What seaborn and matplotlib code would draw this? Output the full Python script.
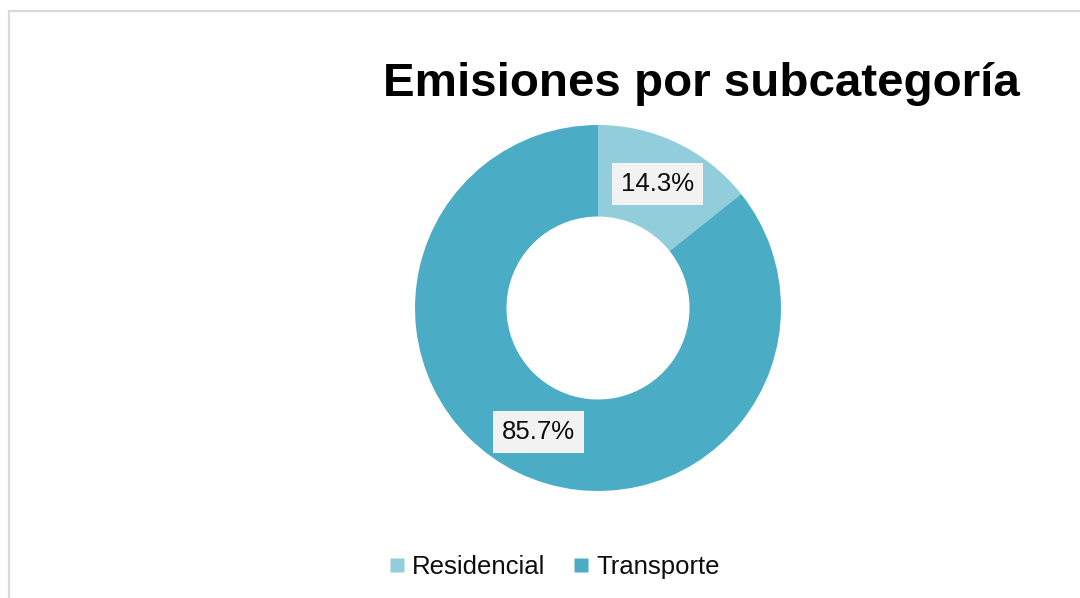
import matplotlib.pyplot as plt
import seaborn as sns
from matplotlib.lines import Line2D
from matplotlib.patches import Rectangle

# chart data
categories = ["Residencial", "Transporte"]
shares = [14.3, 85.7]
colors = ["#92CDDC", "#4BACC6"]
title = "Emisiones por subcategoría"

W, H = 1080, 598


def main() -> None:
    sns.set_theme(style="white")
    plt.rcParams["font.family"] = ["Liberation Sans", "DejaVu Sans"]

    fig = plt.figure(figsize=(W / 100, H / 100), dpi=100)
    fig.patch.set_facecolor("white")

    # outer chart frame (left and top visible, rest runs off the image)
    fig.add_artist(Rectangle((8.5 / W, -0.1), 1.2, 1.1 - 11.5 / H,
                             transform=fig.transFigure, fill=False,
                             edgecolor="#D9D9D9", linewidth=1.6))

    cx, cy, r = 598, 308, 183
    ax = fig.add_axes([(cx - r) / W, (H - cy - r) / H, 2 * r / W, 2 * r / H])
    wedges, _, autotexts = ax.pie(
        shares,
        colors=colors,
        startangle=90,
        counterclock=False,
        radius=1,
        autopct=lambda p: f"{p:.1f}%",
        pctdistance=0.75,
        wedgeprops=dict(width=0.5, linewidth=0),
        textprops=dict(fontsize=18.5, color="#0d0d0d"),
    )
    for t in autotexts:
        t.set_bbox(dict(boxstyle="square,pad=0.35", facecolor="#F2F2F2", edgecolor="none"))
    ax.set_xlim(-1, 1)
    ax.set_ylim(-1, 1)
    ax.axis("off")

    fig.text(701 / W, 1 - 84 / H, title, ha="center", va="center",
             fontsize=34.2, fontweight="bold", color="black")

    handles = [Line2D([], [], marker="s", linestyle="none", markersize=10,
                      markerfacecolor=c, markeredgecolor="none") for c in colors]
    leg = fig.legend(handles, categories, loc="center", bbox_to_anchor=(554 / W, 1 - 567 / H),
                     ncol=2, frameon=False, fontsize=18.5, handlelength=0.7,
                     handletextpad=0.25, columnspacing=1.05, borderpad=0)
    for t in leg.get_texts():
        t.set_color("#0d0d0d")

    fig.savefig("out.png", dpi=100, facecolor="white")
    plt.close(fig)


if __name__ == "__main__":
    main()
